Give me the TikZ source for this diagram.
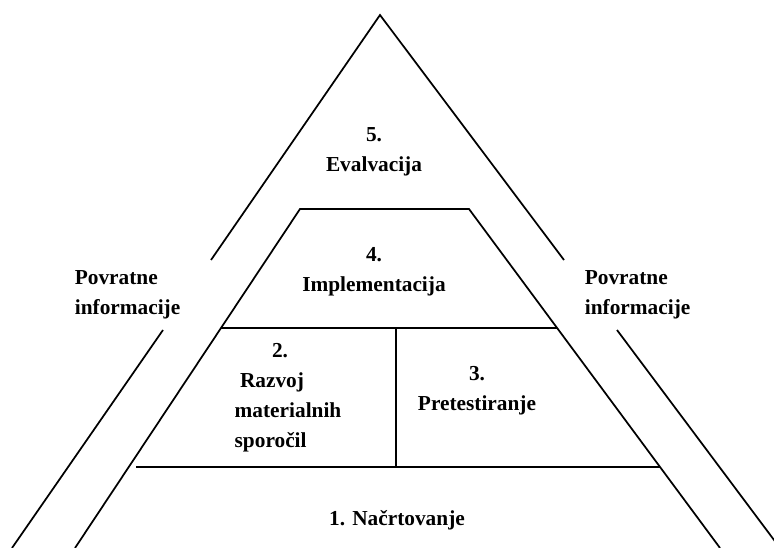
\documentclass[tikz,border=0pt]{standalone}
\usepackage{fontspec}
\setmainfont{Liberation Serif}
\begin{document}
\begin{tikzpicture}[x=0.75pt, y=-0.75pt, line width=1.3pt,
		every node/.style={font=\bfseries\fontsize{16}{22.5}\selectfont, inner sep=0pt},
		side/.style={align=left, anchor=west}]
	\useasboundingbox (0,0) rectangle (774,548);
	% outer triangle, broken at the feedback labels
	\coordinate (apex) at (380,15);
	\coordinate (ol1) at (211,260); \coordinate (ol2) at (163,330); \coordinate (ol3) at (12,548);
	\coordinate (or1) at (564,260); \coordinate (or2) at (617,330); \coordinate (or3) at (780,548);
	\draw (ol1) -- (apex) -- (or1);
	\draw (ol2) -- (ol3);
	\draw (or2) -- (or3);
	% inner trapezoid
	\coordinate (tl) at (300,209); \coordinate (tr) at (469,209);
	\coordinate (bl) at (75,548); \coordinate (br) at (720,548);
	\draw (bl) -- (tl) -- (tr) -- (br);
	\coordinate (ml) at (221,328); \coordinate (mr) at (557,328);
	\coordinate (ll) at (136,467); \coordinate (lr) at (660,467);
	\coordinate (dt) at (396,328); \coordinate (db) at (396,467);
	\draw (ml) -- (mr);
	\draw (ll) -- (lr);
	\draw (dt) -- (db);
	% labels
	\node[align=center] (eval) at (374,152) {5.\\Evalvacija};
	\node[align=center] (impl) at (374,272) {4.\\Implementacija};
	\node[align=left] (razvoj) at (288,398) {\hspace*{28pt}2.\\\hspace*{4pt}Razvoj\\materialnih\\sporočil};
	\node[align=center] (pretest) at (477,391) {3.\\Pretestiranje};
	\node (nacrt) at (397,520) {1. Načrtovanje};
	\node[side] (fbl) at (74,295) {Povratne\\informacije};
	\node[side] (fbr) at (584,295) {Povratne\\informacije};
\end{tikzpicture}
\end{document}
